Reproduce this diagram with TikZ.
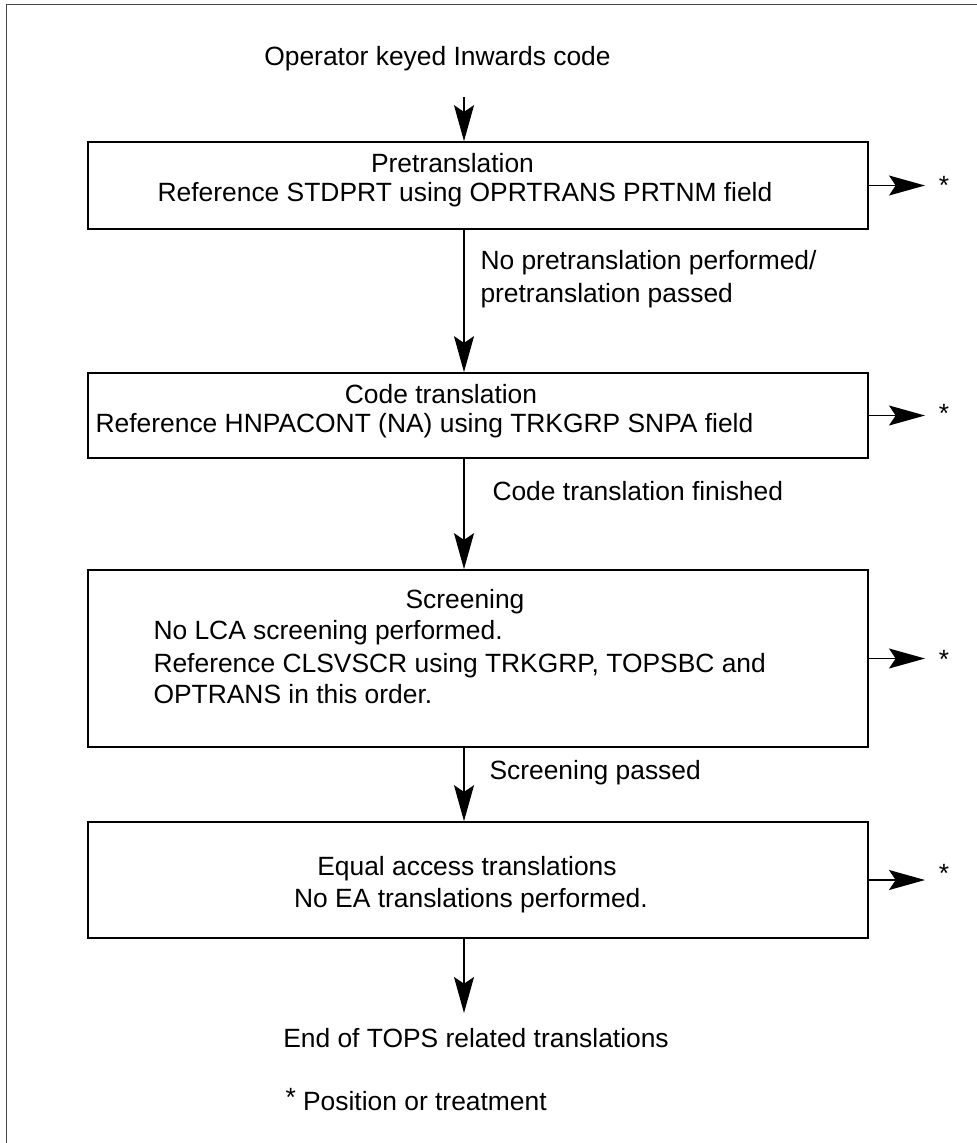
\documentclass[tikz,border=0pt]{standalone}
\usepackage{fontspec}
\setmainfont{Liberation Sans}
\usetikzlibrary{arrows.meta}

\tikzset{every picture/.style={line width=0.75pt}}
\tikzset{
  box/.style={draw, line width=1.2pt, rectangle, minimum width=585pt, inner sep=0pt},
  arr/.style={line width=1.1pt, -{Stealth[length=27pt, width=15pt, inset=5pt]}},
  txt/.style={inner sep=0pt, font=\fontsize{19.8pt}{23pt}\selectfont},
}

\begin{document}
\begin{tikzpicture}[x=0.75pt,y=0.75pt,yscale=-1,xscale=1]
\useasboundingbox (0,0) rectangle (977,1143);
%Frame
\draw [color={rgb, 255:red, 70; green, 70; blue, 70 }]  (6,1143) -- (6,4) -- (977,4) ;
%Shape: Rectangle
\node [box, minimum height=65.25pt] (pretr) at (478,185.5) {};
%Shape: Rectangle
\node [box, minimum height=63.75pt] (codetr) at (478,415.5) {};
%Shape: Rectangle
\node [box, minimum height=132.75pt] (screen) at (478,658.5) {};
%Shape: Rectangle
\node [box, minimum height=87pt] (equal) at (478,880) {};
% Text Node
\node [txt, anchor=base] (opkey) at (437.5,65) {Operator keyed Inwards code};
\node [txt, anchor=base] (pretrA) at (452.5,172) {Pretranslation};
\node [txt, anchor=base] (pretrB) at (465,201) {Reference STDPRT using OPRTRANS PRTNM field};
\node [txt, anchor=base west] (passA) at (480,269) {No pretranslation performed/};
\node [txt, anchor=base west] (passB) at (480,302) {pretranslation passed};
\node [txt, anchor=base] (codetrA) at (441,403) {Code translation};
\node [txt, anchor=base] (codetrB) at (424.5,432) {Reference HNPACONT (NA) using TRKGRP SNPA field};
\node [txt, anchor=base west] (finished) at (492,500) {Code translation finished};
\node [txt, anchor=base] (screenA) at (465,608) {Screening};
\node [txt, anchor=base west] (screenB) at (153,639) {No LCA screening performed.};
\node [txt, anchor=base west] (screenC) at (153,672) {Reference CLSVSCR using TRKGRP, TOPSBC and};
\node [txt, anchor=base west] (screenD) at (153,703) {OPTRANS in this order.};
\node [txt, anchor=base west] (scrpass) at (489,779) {Screening passed};
\node [txt, anchor=base] (equalA) at (467,875) {Equal access translations};
\node [txt, anchor=base] (equalB) at (471,907) {No EA translations performed.};
\node [txt, anchor=base] (endtops) at (476,1047) {End of TOPS related translations};
\node [txt, anchor=base west] (note) at (285,1110) {\raisebox{3pt}{*} Position or treatment};
% Stars
\node [txt, anchor=base] (starA) at (944,194) {*};
\node [txt, anchor=base] (starB) at (944,422) {*};
\node [txt, anchor=base] (starC) at (944,668) {*};
\node [txt, anchor=base] (starD) at (944,882) {*};
%Straight Lines
\coordinate (ax) at (464,0);
\coordinate (start) at (464,97);
\coordinate (stop) at (464,1013);
\draw [arr] (start) -- (pretr.north -| ax);
\draw [arr] (pretr.south -| ax) -- (codetr.north -| ax);
\draw [arr] (codetr.south -| ax) -- (screen.north -| ax);
\draw [arr] (screen.south -| ax) -- (equal.north -| ax);
\draw [arr] (equal.south -| ax) -- (stop);
%Straight Lines
\coordinate (tipx) at (925,0);
\draw [arr] (pretr.east) -- (pretr.east -| tipx);
\draw [arr] (codetr.east) -- (codetr.east -| tipx);
\draw [arr] (screen.east) -- (screen.east -| tipx);
\draw [arr] (equal.east) -- (equal.east -| tipx);
\end{tikzpicture}
\end{document}
